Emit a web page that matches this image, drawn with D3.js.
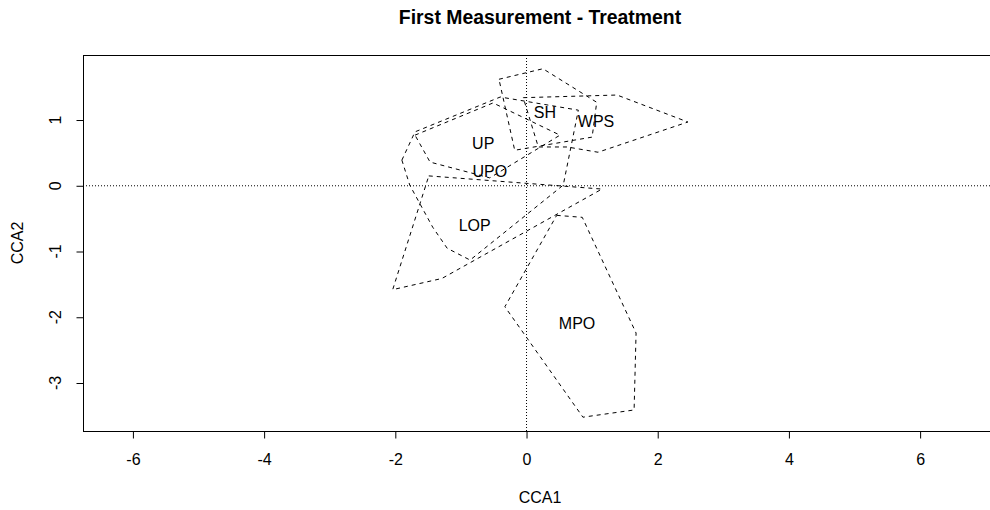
<!DOCTYPE html>
<html>
<head>
<meta charset="utf-8">
<script src="https://cdn.jsdelivr.net/npm/d3@7"></script>
<style>
  html, body { margin: 0; padding: 0; background: #fff; }
  svg { display: block; }
  text { font-family: "Liberation Sans", Arial, sans-serif; fill: #000; }
</style>
</head>
<body>
<svg id="chart" width="990" height="510"></svg>
<script>
// ---- data ----
const groups = ["UP", "UPO", "LOP", "MPO", "SH", "WPS"];
const hullUP  = [[-1.70, 0.77], [-0.51, 1.26], [0.51, 0.77], [-0.56, 0.12], [-1.47, 0.36]];
const hullUPO = [[-1.90, 0.39], [-1.70, 0.82], [-0.40, 1.35], [0.79, 1.15], [0.56, 0.01],
                 [-0.86, -1.13], [-1.21, -0.95], [-1.43, -0.63], [-1.78, 0.01]];
const hullLOP = [[-1.49, 0.15], [1.15, -0.05], [-1.29, -1.41], [-2.04, -1.58]];
const hullMPO = [[0.46, -0.45], [0.85, -0.48], [1.67, -2.24], [1.64, -3.41], [0.86, -3.52], [-0.33, -1.84]];
const hullSH  = [[-0.42, 1.62], [0.25, 1.78], [1.07, 1.27], [1.00, 0.74], [-0.18, 0.54]];
const hullWPS = [[-0.05, 1.34], [1.38, 1.38], [2.46, 0.97], [1.09, 0.51], [0.62, 0.59], [0.18, 0.59]];
const labelX = [-0.66, -0.56, -0.79, 0.77, 0.28, 1.06];
const labelY = [0.65, 0.22, -0.60, -2.09, 1.12, 0.97];
const xTicks = [-6, -4, -2, 0, 2, 4, 6];
const yTicks = [-3, -2, -1, 0, 1];
const title = "First Measurement - Treatment";
const xTitle = "CCA1", yTitle = "CCA2";

const hulls = [hullUP, hullUPO, hullLOP, hullMPO, hullSH, hullWPS];

// ---- layout ----
const L = 83, R = 997, T = 55, B = 431;
const svg = d3.select("#chart");
const x = d3.scaleLinear().domain([-6.761, 7.172]).range([L, R]);
const y = d3.scaleLinear().domain([-3.730, 1.989]).range([B, T]);

svg.append("defs").append("clipPath").attr("id", "plotclip")
  .append("rect").attr("x", L).attr("y", T).attr("width", R - L).attr("height", B - T);

const plot = svg.append("g").attr("clip-path", "url(#plotclip)");

// zero lines
plot.append("line").attr("x1", L).attr("x2", R).attr("y1", y(0)).attr("y2", y(0))
  .attr("stroke", "#000").attr("stroke-width", 1).attr("stroke-dasharray", "1,2");
plot.append("line").attr("x1", x(0)).attr("x2", x(0)).attr("y1", T).attr("y2", B)
  .attr("stroke", "#000").attr("stroke-width", 1).attr("stroke-dasharray", "1,2");

// hulls
const line = d3.line().x(d => x(d[0])).y(d => y(d[1])).curve(d3.curveLinearClosed);
plot.selectAll("path.hull").data(hulls).join("path")
  .attr("class", "hull")
  .attr("d", d => line(d))
  .attr("fill", "none").attr("stroke", "#000").attr("stroke-width", 1)
  .attr("stroke-dasharray", "4,4");

// labels
plot.selectAll("text.lab").data(groups).join("text")
  .attr("class", "lab")
  .attr("x", (d, i) => x(labelX[i]))
  .attr("y", (d, i) => y(labelY[i]))
  .attr("text-anchor", "middle").attr("dominant-baseline", "central")
  .attr("font-size", 16)
  .text(d => d);

// box
svg.append("rect").attr("x", L + 0.5).attr("y", T + 0.5).attr("width", R - L).attr("height", B - T)
  .attr("fill", "none").attr("stroke", "#000").attr("stroke-width", 1);

// axes (hyphen-minus like R)
const fmt = d => String(d);
const xAxis = d3.axisBottom(x).tickValues(xTicks).tickSize(7).tickPadding(15).tickFormat(fmt);
const gx = svg.append("g").attr("transform", `translate(0,${B + 0.5})`).call(xAxis);
gx.select(".domain").remove();
gx.selectAll("text").attr("font-size", 16).attr("font-family", "Liberation Sans, Arial, sans-serif").attr("fill", "#000");

const yAxis = d3.axisLeft(y).tickValues(yTicks).tickSize(7).tickPadding(0).tickFormat(fmt);
const gy = svg.append("g").attr("transform", `translate(${L + 0.5},0)`).call(yAxis);
gy.select(".domain").remove();
gy.selectAll("text")
  .attr("font-size", 16).attr("font-family", "Liberation Sans, Arial, sans-serif").attr("fill", "#000")
  .attr("x", null).attr("dy", null)
  .attr("text-anchor", "middle")
  .attr("transform", d => `translate(${-28},${y(d)}) rotate(-90)`)
  .attr("y", 0).attr("dominant-baseline", "central");
gy.selectAll(".tick").attr("transform", null);
gy.selectAll(".tick line").attr("y1", d => y(d) + 0.5).attr("y2", d => y(d) + 0.5);

// titles
svg.append("text").attr("x", (L + R) / 2).attr("y", 24)
  .attr("text-anchor", "middle").attr("font-size", 19.4).attr("font-weight", "bold").text(title);
svg.append("text").attr("x", (L + R) / 2).attr("y", 503)
  .attr("text-anchor", "middle").attr("font-size", 16).text(xTitle);
svg.append("text").attr("transform", `translate(23,${(T + B) / 2}) rotate(-90)`)
  .attr("text-anchor", "middle").attr("font-size", 16).text(yTitle);
</script>
</body>
</html>
